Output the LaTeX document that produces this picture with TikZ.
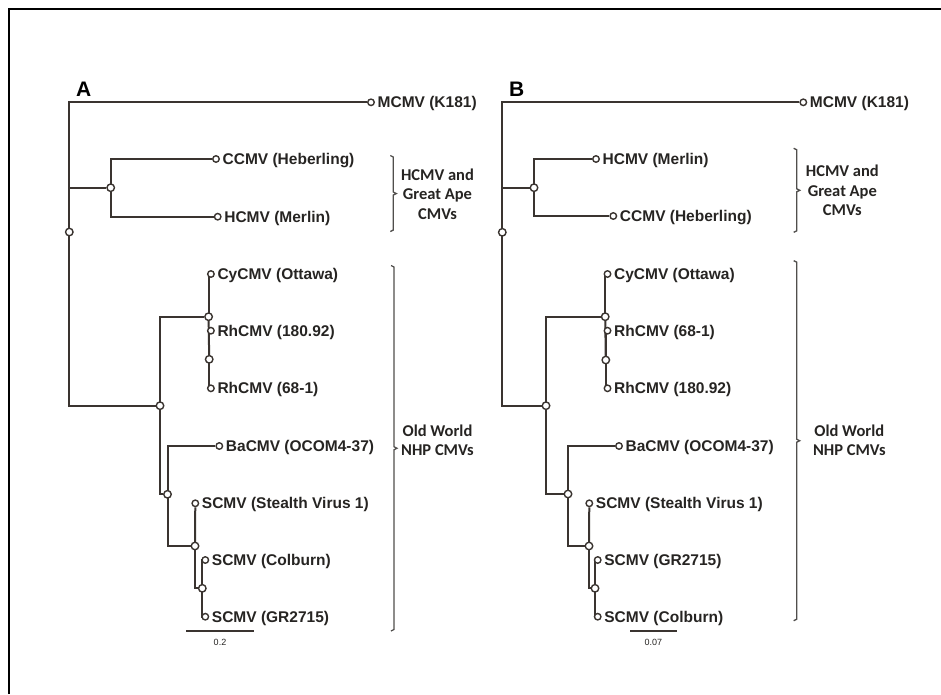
\documentclass[tikz,border=0pt]{standalone}
\usepackage{fontspec}
\setmainfont{Liberation Sans}
\newfontfamily\bracketfont{Carlito}
\usetikzlibrary{backgrounds}
\definecolor{treeline}{RGB}{58,52,48}
\definecolor{brackgray}{RGB}{80,78,76}
\definecolor{labelgray}{RGB}{38,36,34}

\tikzset{
  branch/.style={draw=treeline,line width=2pt},
  tip/.style={circle,draw=treeline,fill=white,line width=1.4pt,inner sep=0pt,minimum size=6.5pt},
  inode/.style={circle,draw=treeline,fill=white,line width=1.4pt,inner sep=0pt,minimum size=7.5pt},
  taxon/.style={font=\fontsize{15.5}{18}\selectfont\bfseries,text=labelgray,text height=11pt,text depth=0pt,inner sep=1.5pt,label distance=1pt},
  clade/.style={draw=brackgray,line width=1.3pt},
  cladetext/.style={font=\bracketfont\fontsize{16.5}{19.5}\selectfont\bfseries,text=labelgray,align=center,inner sep=0pt},
  panel/.style={font=\fontsize{21}{24}\selectfont\bfseries,text=black},
  scalebar/.style={draw=treeline,line width=2pt},
  scaletext/.style={font=\fontsize{9}{10}\selectfont,text=labelgray}
}

% bracket: x, top, bottom
\newcommand{\cladebracket}[3]{%
  \draw[clade] ({#1-3},#2) -- (#1,{#2+1.5}) -- (#1,{(#2+#3)/2-1.5}) -- ({#1+3},{(#2+#3)/2})
    -- (#1,{(#2+#3)/2+1.5}) -- (#1,{#3-1.5}) -- ({#1-3},#3);}

\begin{document}
\begin{tikzpicture}[x=1pt,y=-1pt]
\useasboundingbox (0,0) rectangle (941,694);
\draw[line width=2.5pt] (9,694) -- (9,9) -- (941,9);

%% panel A
\node[panel] (labA) at (83.7,89) {A};
\node[inode] (rootA) at (69.3,232) {};
\node[inode] (gaA) at (110.7,187.7) {};
\node[inode] (owA) at (160,405.7) {};
\node[inode] (cyrhA) at (208.6,316.7) {};
\node[inode] (rhA) at (209.2,359.3) {};
\node[inode] (ohA) at (167.5,494.3) {};
\node[inode] (scA) at (195,546) {};
\node[inode] (scsubA) at (202.3,588.3) {};

\node[tip,label={[taxon]right:MCMV (K181)}] (mcmvA) at (371,102.3) {};
\node[tip,label={[taxon]right:CCMV (Heberling)}] (ccmvA) at (216,159) {};
\node[tip,label={[taxon]right:HCMV (Merlin)}] (hcmvA) at (217.7,216.7) {};
\node[tip,label={[taxon]right:CyCMV (Ottawa)}] (cyA) at (210.9,274) {};
\node[tip,label={[taxon]right:RhCMV (180.92)}] (rh18A) at (210.9,330.7) {};
\node[tip,label={[taxon]right:RhCMV (68-1)}] (rh68A) at (210.9,388.3) {};
\node[tip,label={[taxon]right:BaCMV (OCOM4-37)}] (baA) at (219.3,446) {};
\node[tip,label={[taxon]right:SCMV (Stealth Virus 1)}] (stA) at (195.3,503.3) {};
\node[tip,label={[taxon]right:SCMV (Colburn)}] (colA) at (205.3,560) {};
\node[tip,label={[taxon]right:SCMV (GR2715)}] (grA) at (205.3,616.7) {};

\begin{pgfonlayer}{background}
\draw[branch] (rootA.center) |- (mcmvA);
\draw[branch] (rootA.center) |- (gaA);
\draw[branch] (rootA.center) |- (owA);
\draw[branch] (gaA.center) |- (ccmvA);
\draw[branch] (gaA.center) |- (hcmvA);
\draw[branch] (owA.center) |- (cyrhA);
\draw[branch] (owA.center) |- (ohA);
\draw[branch] (cyrhA.center) |- (cyA);
\draw[branch] (cyrhA.center) -- (rhA.center);
\draw[branch] (rhA.center) |- (rh18A);
\draw[branch] (rhA.center) |- (rh68A);
\draw[branch] (ohA.center) |- (baA);
\draw[branch] (ohA.center) |- (scA);
\draw[branch] (scA.center) -- (stA);
\draw[branch] (scA.center) |- (scsubA);
\draw[branch] (scsubA.center) |- (colA);
\draw[branch] (scsubA.center) |- (grA);
\end{pgfonlayer}

\coordinate (barAl) at (186,631);
\coordinate (barAr) at (254.3,631);
\draw[scalebar] (barAl) -- (barAr);
\node[scaletext] (valA) at (220,642.5) {0.2};

\cladebracket{393.3}{155.5}{231.5}
\node[cladetext] (gaTextA) at (437.5,194) {HCMV and\\Great Ape\\CMVs};
\cladebracket{394}{265.5}{631}
\node[cladetext] (owTextA) at (437.5,440.5) {Old World\\NHP CMVs};

%% panel B
\node[panel] (labB) at (516.7,89) {B};
\node[inode] (rootB) at (502.3,232.3) {};
\node[inode] (gaB) at (534,187.7) {};
\node[inode] (owB) at (546,405.7) {};
\node[inode] (cyrhB) at (605.2,316.7) {};
\node[inode] (rhB) at (605.8,360) {};
\node[inode] (ohB) at (568,494) {};
\node[inode] (scB) at (589,546) {};
\node[inode] (scsubB) at (595,588.3) {};

\node[tip,label={[taxon]right:MCMV (K181)}] (mcmvB) at (803.3,102.3) {};
\node[tip,label={[taxon]right:HCMV (Merlin)}] (hcmvB) at (596,159) {};
\node[tip,label={[taxon]right:CCMV (Heberling)}] (ccmvB) at (613.3,216) {};
\node[tip,label={[taxon]right:CyCMV (Ottawa)}] (cyB) at (607.5,274) {};
\node[tip,label={[taxon]right:RhCMV (68-1)}] (rh68B) at (607.5,330.7) {};
\node[tip,label={[taxon]right:RhCMV (180.92)}] (rh18B) at (607.5,388.3) {};
\node[tip,label={[taxon]right:BaCMV (OCOM4-37)}] (baB) at (619,446) {};
\node[tip,label={[taxon]right:SCMV (Stealth Virus 1)}] (stB) at (589.3,503.3) {};
\node[tip,label={[taxon]right:SCMV (GR2715)}] (grB) at (597.7,560) {};
\node[tip,label={[taxon]right:SCMV (Colburn)}] (colB) at (597.7,616.7) {};

\begin{pgfonlayer}{background}
\draw[branch] (rootB.center) |- (mcmvB);
\draw[branch] (rootB.center) |- (gaB);
\draw[branch] (rootB.center) |- (owB);
\draw[branch] (gaB.center) |- (hcmvB);
\draw[branch] (gaB.center) |- (ccmvB);
\draw[branch] (owB.center) |- (cyrhB);
\draw[branch] (owB.center) |- (ohB);
\draw[branch] (cyrhB.center) |- (cyB);
\draw[branch] (cyrhB.center) -- (rhB.center);
\draw[branch] (rhB.center) |- (rh68B);
\draw[branch] (rhB.center) |- (rh18B);
\draw[branch] (ohB.center) |- (baB);
\draw[branch] (ohB.center) |- (scB);
\draw[branch] (scB.center) -- (stB);
\draw[branch] (scB.center) |- (scsubB);
\draw[branch] (scsubB.center) |- (grB);
\draw[branch] (scsubB.center) |- (colB);
\end{pgfonlayer}

\coordinate (barBl) at (630,631);
\coordinate (barBr) at (676.7,631);
\draw[scalebar] (barBl) -- (barBr);
\node[scaletext] (valB) at (653.3,642.5) {0.07};

\cladebracket{796.7}{148.3}{232.3}
\node[cladetext] (gaTextB) at (842.3,190.5) {HCMV and\\Great Ape\\CMVs};
\cladebracket{796.7}{260.7}{620.7}
\node[cladetext] (owTextB) at (849.3,440.5) {Old World\\NHP CMVs};
\end{tikzpicture}
\end{document}
